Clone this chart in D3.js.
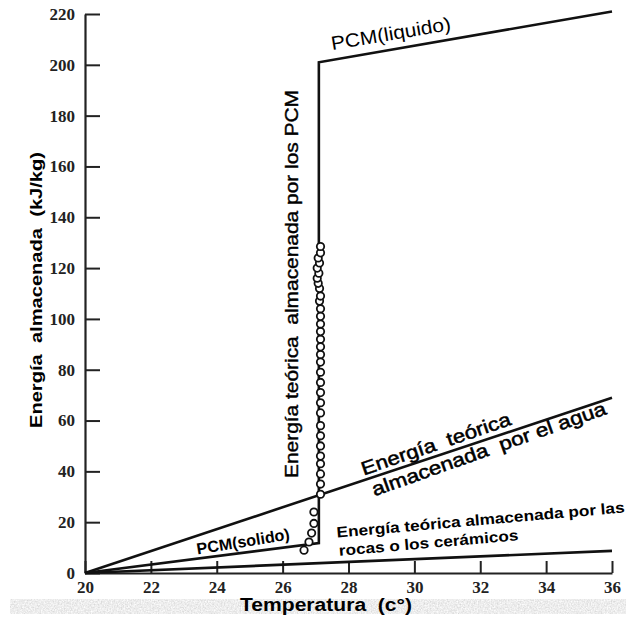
<!DOCTYPE html>
<html>
<head>
<meta charset="utf-8">
<script src="https://cdn.jsdelivr.net/npm/d3@7"></script>
<style>
	body { margin: 0; background: #fff; }
	text { white-space: pre; }
</style>
</head>
<body>
<div id="chart"></div>
<script>
// Tick values
const xTicks = [20, 22, 24, 26, 28, 30, 32, 34, 36];
const yTicks = [0, 20, 40, 60, 80, 100, 120, 140, 160, 180, 200, 220];

// Theoretical lines (temperature, kJ/kg)
const waterTemps = [20, 36];
const waterValues = [0, 69];
const rockTemps = [20, 36];
const rockValues = [0, 8.7];
const pcmTemps = [20, 27.1, 27.1, 36];
const pcmValues = [0, 11.8, 201, 221];

// Measured points (circles)
const pointTemps = [26.65, 26.8, 26.88, 26.95, 26.95,
	27.15, 27.15, 27.15, 27.15, 27.15, 27.15, 27.15, 27.15, 27.15, 27.15, 27.15,
	27.15, 27.15, 27.15, 27.15, 27.15, 27.15, 27.15, 27.15, 27.15, 27.15, 27.12,
	27.15, 27.12, 27.08, 27.05, 27.1, 27.05, 27.12, 27.08, 27.15, 27.15];
const pointValues = [9, 12.2, 15.7, 19.5, 24,
	31, 35, 39, 43, 46, 50, 54, 58, 63, 67, 71,
	75, 79, 83, 86, 89, 92, 95, 98, 101, 104, 107,
	109, 112, 114, 116, 118, 120, 122, 124, 126, 128.5];

const W = 626, H = 618;
const svg = d3.select('#chart').append('svg').attr('width', W).attr('height', H);

const x = d3.scaleLinear().domain([20, 36]).range([85, 612]);
const y = d3.scaleLinear().domain([0, 220]).range([573, 14]);

// scanned grey strip at the bottom (speckled)
const defs = svg.append('defs');
const f = defs.append('filter').attr('id', 'speckle');
f.append('feTurbulence').attr('type', 'fractalNoise').attr('baseFrequency', 0.7).attr('numOctaves', 2).attr('seed', 3);
f.append('feColorMatrix').attr('type', 'matrix')
	.attr('values', '0.45 0 0 0 0.62  0.45 0 0 0 0.62  0.45 0 0 0 0.62  0 0 0 0 1');
f.append('feComposite').attr('in2', 'SourceAlpha').attr('operator', 'in');
svg.append('rect').attr('x', 10).attr('y', 599).attr('width', W - 10).attr('height', 15)
	.attr('fill', '#dadada').attr('filter', 'url(#speckle)');

// Axes
const serif = '"Liberation Serif", "Times New Roman", "DejaVu Serif", serif';
const yAxis = svg.append('g').attr('transform', `translate(${x(20)},0)`)
	.call(d3.axisLeft(y).tickValues(yTicks).tickSizeInner(-15).tickSizeOuter(0).tickPadding(10));
const xAxis = svg.append('g').attr('transform', `translate(0,${y(0)})`)
	.call(d3.axisBottom(x).tickValues(xTicks).tickSizeInner(-12).tickSizeOuter(0).tickPadding(8));

[xAxis, yAxis].forEach((a) => {
	a.attr('font-family', serif).attr('font-size', 17).attr('font-weight', 'bold');
	a.select('.domain').attr('stroke', '#222').attr('stroke-width', 2.2);
	a.selectAll('.tick line').attr('stroke', '#222').attr('stroke-width', 2);
	a.selectAll('.tick text').attr('fill', '#222')
		.style('font-family', serif)
		.style('font-weight', 'bold').style('font-size', '17px');
});

// Lines
const line = d3.line().x((d) => x(d[0])).y((d) => y(d[1]));
const series = [
	d3.zip(waterTemps, waterValues),
	d3.zip(rockTemps, rockValues),
	d3.zip(pcmTemps, pcmValues),
];
svg.selectAll('.series').data(series).enter().append('path')
	.attr('class', 'series')
	.attr('d', line)
	.attr('fill', 'none')
	.attr('stroke', '#111')
	.attr('stroke-width', 2.6);

// Circles
svg.selectAll('.pt').data(d3.zip(pointTemps, pointValues)).enter().append('circle')
	.attr('class', 'pt')
	.attr('cx', (d) => x(d[0]))
	.attr('cy', (d) => y(d[1]))
	.attr('r', 3.7)
	.attr('fill', '#fff')
	.attr('stroke', '#111')
	.attr('stroke-width', 1.8);

// Labels
function label(txt, cx, cy, angle, size, weight, len) {
	const t = svg.append('text')
		.attr('transform', `translate(${cx},${cy}) rotate(${angle})`)
		.attr('text-anchor', 'middle')
		.style('font-family', '"Liberation Sans", Arial, sans-serif')
		.style('font-size', size + 'px')
		.style('font-weight', weight)
		.attr('fill', '#000')
		.text(txt);
	if (len) t.attr('textLength', len).attr('lengthAdjust', 'spacingAndGlyphs');
	return t;
}

label('Energía  almacenada  (kJ/kg)', 42, 290, -90, 17, 'bold', 276);
label('Temperatura  (c°)', 326, 611, 0, 18, 'bold', 172);
label('Energía teórica  almacenada por los PCM', 298, 284, -90, 18, 'normal', 388).attr('stroke', '#000').attr('stroke-width', 0.4);
label('PCM(liquido)', 392, 40, -9.5, 19, 'normal', 121);
label('PCM(solido)', 244, 547, -9.3, 16, 'bold', 94);
label('Energía  teórica', 438, 450, -18.9, 19, 'normal', 157).attr('stroke', '#000').attr('stroke-width', 0.5);
label('almacenada  por el agua', 491, 455, -19.5, 19, 'normal', 247).attr('stroke', '#000').attr('stroke-width', 0.5);
label('Energía teórica almacenada por las', 481, 525, -5, 15, 'bold', 289);
label('rocas o los cerámicos', 429, 548, -5, 15, 'bold', 180);
</script>
</body>
</html>
